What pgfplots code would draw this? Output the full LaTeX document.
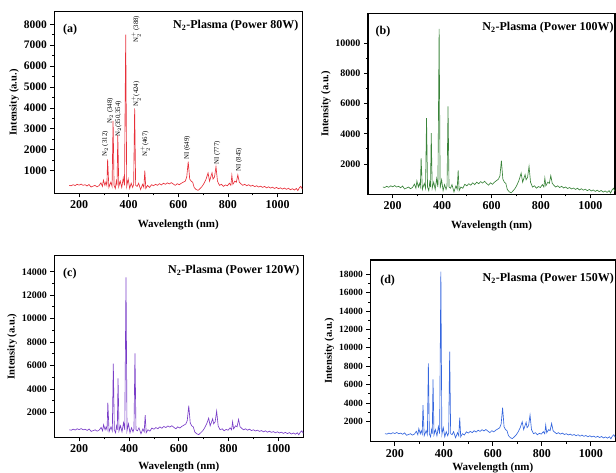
\documentclass[border=0pt]{standalone}
\usepackage{pgfplots}
\pgfplotsset{compat=1.18}
\usepackage{pgfplotstable}
\usepackage{fontspec}
\setmainfont{Liberation Serif}
\definecolor{cA}{RGB}{232,48,58}
\definecolor{cB}{RGB}{58,132,58}
\definecolor{cC}{RGB}{122,62,200}
\definecolor{cD}{RGB}{52,102,222}
\pgfplotstableread{
x a b c d
160 300 480 510 660
168 280 450 476 616
176 330 528 561 726
184 290 464 493 638
192 350 560 595 770
200 310 496 527 682
208 360 576 612 792
216 300 480 510 660
224 330 528 561 726
232 270 432 459 594
240 340 544 578 748
248 220 352 374 484
256 260 416 442 572
264 300 480 510 660
272 230 368 391 506
280 280 448 476 616
288 420 672 714 924
294 250 400 425 550
298 550 880 935 1210
304 300 480 510 660
308 450 720 765 990
312 300 480 510 660
315 1544 2396 2825 3778
320 200 320 340 440
328 450 720 765 990
333 250 400 425 550
337 3387 5033 6152 8313
341 300 480 510 660
346 150 240 255 330
350 500 800 850 1100
353 300 480 510 660
356 2704 4044 4900 6571
360 250 400 425 550
366 500 800 850 1100
372 200 320 340 440
378 650 1040 1105 1430
383 300 480 510 660
388 7510 10924 13518 18290
392 250 400 425 550
398 600 960 1020 1320
404 150 240 255 330
410 400 640 680 880
416 200 320 340 440
420 350 560 595 770
424 3980 5802 7034 9583
428 300 480 510 660
434 250 400 425 550
440 400 640 680 880
448 100 160 170 220
456 350 560 595 770
461 200 320 340 440
465 1000 1582 1770 2400
469 150 240 255 330
476 300 480 510 660
484 200 400 400 520
492 330 660 660 858
500 280 560 560 728
508 350 700 700 910
516 300 600 600 780
524 380 760 760 988
532 320 640 640 832
540 400 800 800 1040
548 350 700 700 910
556 420 840 840 1092
564 370 740 740 962
572 430 860 860 1118
580 360 720 720 936
588 300 600 600 780
596 380 760 760 988
604 330 660 660 858
612 400 800 800 1040
620 450 900 900 1170
628 500 1000 1000 1300
634 700 1200 1300 1700
640 1430 2220 2570 3490
646 600 1000 1080 1400
652 500 800 850 1100
658 450 720 765 990
664 200 320 340 440
672 100 160 170 220
680 60 100 100 130
688 150 240 255 330
696 250 400 425 550
704 400 640 680 880
712 600 960 1020 1320
720 890 1400 1500 1960
726 500 800 850 1100
736 900 1300 1450 1900
740 600 960 1020 1320
746 700 1120 1190 1540
752 1190 1846 2110 2690
758 500 800 850 1100
766 300 480 510 660
774 350 560 595 770
782 250 400 425 550
790 320 512 544 704
798 280 448 476 616
806 400 640 680 880
812 300 480 510 660
816 780 1077 1200 1600
820 350 560 595 770
828 500 800 850 1100
834 450 720 765 990
840 800 1230 1400 1780
846 450 720 765 990
852 380 608 646 836
860 300 480 510 660
868 350 560 595 770
876 280 448 476 616
884 330 528 561 726
892 260 416 442 572
900 300 480 510 660
908 240 384 408 528
916 280 448 476 616
924 220 352 374 484
932 260 416 442 572
940 200 320 340 440
948 250 400 425 550
956 180 288 306 396
964 230 368 391 506
972 170 272 289 374
980 210 336 357 462
988 150 240 255 330
996 200 320 340 440
1004 140 224 238 308
1012 180 288 306 396
1020 120 192 204 264
1028 170 272 289 374
1036 110 176 187 242
1044 160 256 272 352
1052 90 144 153 198
1060 140 224 238 308
1068 80 128 136 176
1076 150 240 255 330
1082 50 80 85 110
1088 180 288 306 396
1094 250 400 425 550
1100 120 192 204 264
}\spec
\pgfplotsset{
  panel/.style={
    scale only axis,
    xmin=100, xmax=1100,
    xtick={200,400,...,1000},
    minor x tick num=1,
    minor y tick num=1,
    scaled y ticks=false,
    scaled x ticks=false,
    axis line style={line width=1.1pt},
    tick style={line width=0.8pt, black},
    major tick length=4pt,
    minor tick length=2.2pt,
    tick align=outside,
    xtick pos=bottom, ytick pos=left,
    /pgf/number format/assume math mode=true,
    /pgf/number format/1000 sep={},
    xticklabel style={font=\bfseries\fontsize{12}{12}\selectfont},
    yticklabel style={font=\bfseries\fontsize{10}{10}\selectfont},
    xlabel={Wavelength (nm)},
    ylabel={Intensity (a.u.)},
    xlabel style={font=\bfseries\fontsize{11}{11}\selectfont, yshift=-4pt},
    ylabel style={font=\bfseries\fontsize{10.5}{10.5}\selectfont, yshift=-2pt},
    clip mode=individual,
  },
}
\tikzset{
  ttl/.style={font=\bfseries\fontsize{12}{12}\selectfont, anchor=north east, inner sep=0pt},
  lbl/.style={font=\bfseries\fontsize{12}{12}\selectfont, anchor=north west, inner sep=0pt},
  ann/.style={font=\fontsize{6.8}{6.8}\selectfont, rotate=90, anchor=west, inner sep=0pt},
}
\begin{document}
\begin{tikzpicture}
\useasboundingbox (0,0) rectangle (616pt,473pt);
% (a)
\begin{axis}[panel, at={(54.3pt,279.7pt)}, anchor=south west,
  width=248pt, height=182pt, ymin=-80, ymax=8620,
  ytick={1000,2000,...,8000},
  yticklabel style={font=\bfseries\fontsize{11.5}{11.5}\selectfont}]
\addplot[cA, line width=0.65pt] table[x=x, y=a] {\spec};
\node[ttl] at (rel axis cs:0.985,0.95) {N\textsubscript{2}-Plasma (Power 80W)};
\node[lbl] at (rel axis cs:0.035,0.93) {(a)};
\node[ann] at (axis cs:305,1668) {N$_2$ (312)};
\node[ann] at (axis cs:326,3258) {N$_2$ (348)};
\node[ann] at (axis cs:359,2622) {N$_2$(350,354)};
\node[ann] at (axis cs:430,7100) {N$_2^+$ (388)};
\node[ann] at (axis cs:430,4053) {N$_2^+$(424)};
\node[ann] at (axis cs:466,1668) {N$_2^+$(467)};
\node[ann] at (axis cs:636,1509) {NI (649)};
\node[ann] at (axis cs:757,1270) {NI (777)};
\node[ann] at (axis cs:845,952) {NI (845)};
\end{axis}
% (b)
\begin{axis}[panel, at={(368pt,278.7pt)}, anchor=south west,
  width=247pt, height=181pt, ymin=0, ymax=11960,
  ytick={2000,4000,...,10000}]
\addplot[cB, line width=0.65pt] table[x=x, y=b] {\spec};
\node[ttl] at (rel axis cs:0.995,0.95) {N\textsubscript{2}-Plasma (Power 100W)};
\node[lbl] at (rel axis cs:0.03,0.93) {(b)};
\end{axis}
% (c)
\begin{axis}[panel, at={(54.3pt,35.7pt)}, anchor=south west,
  width=249pt, height=181.6pt, ymin=-130, ymax=15370,
  ytick={2000,4000,...,14000},
  xlabel style={yshift=2pt}]
\addplot[cC, line width=0.65pt] table[x=x, y=c] {\spec};
\node[ttl] at (rel axis cs:0.985,0.95) {N\textsubscript{2}-Plasma (Power 120W)};
\node[lbl] at (rel axis cs:0.035,0.93) {(c)};
\end{axis}
% (d)
\begin{axis}[panel, at={(370.3pt,31.3pt)}, anchor=south west,
  width=245pt, height=181.7pt, ymin=-210, ymax=19560,
  ytick={2000,4000,...,18000},
  xlabel style={yshift=5pt},
  yticklabel style={font=\bfseries\fontsize{9.5}{9.5}\selectfont}]
\addplot[cD, line width=0.65pt] table[x=x, y=d] {\spec};
\node[ttl] at (rel axis cs:0.995,0.93) {N\textsubscript{2}-Plasma (Power 150W)};
\node[lbl] at (rel axis cs:0.04,0.92) {(d)};
\end{axis}
\end{tikzpicture}
\end{document}
